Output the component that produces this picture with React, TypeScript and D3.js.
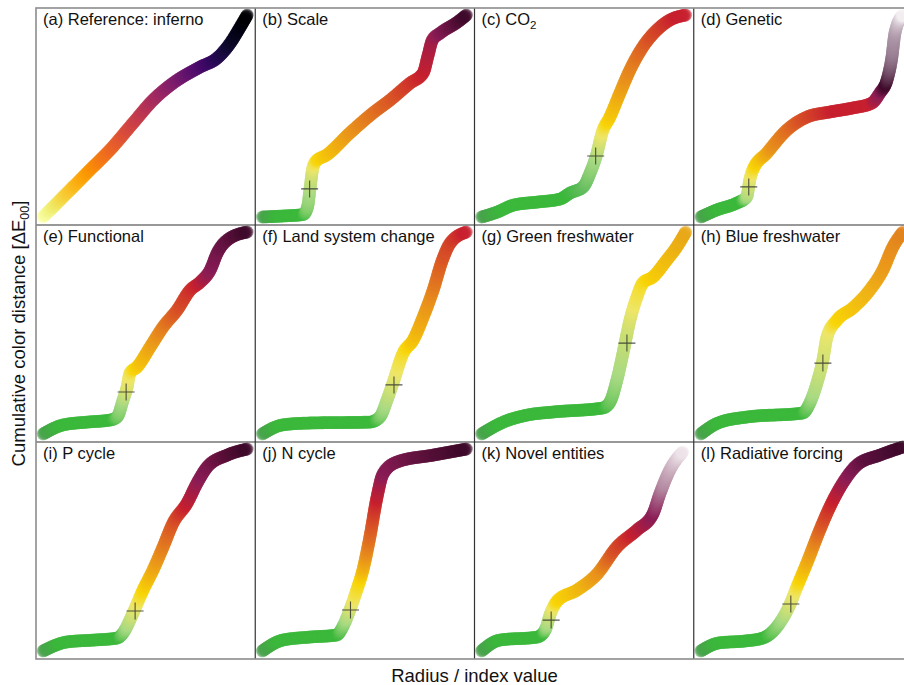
import React, { useEffect, useRef } from "react";
import * as d3 from "d3";

// panel titles, subscript part kept apart (only CO2 has one)
const titles = [
  "(a) Reference: inferno", "(b) Scale", "(c) CO", "(d) Genetic",
  "(e) Functional", "(f) Land system change", "(g) Green freshwater", "(h) Blue freshwater",
  "(i) P cycle", "(j) N cycle", "(k) Novel entities", "(l) Radiative forcing",
];
const titleSubs = ["", "", "2", "", "", "", "", "", "", "", "", ""];

// cumulative distance curves, [index value, distance] both scaled 0..1
const curveA = [[0, 0], [0.118, 0.119], [0.23, 0.233], [0.328, 0.332], [0.441, 0.465], [0.539, 0.579], [0.637, 0.663], [0.77, 0.743], [0.853, 0.787], [0.917, 0.861], [0.966, 0.941], [1, 1]];
const curveB = [[0, 0], [0.1, 0.005], [0.2, 0.012], [0.222, 0.05], [0.234, 0.14], [0.246, 0.233], [0.262, 0.275], [0.315, 0.307], [0.429, 0.416], [0.542, 0.515], [0.626, 0.579], [0.724, 0.663], [0.788, 0.713], [0.812, 0.8], [0.833, 0.876], [0.872, 0.911], [0.956, 0.965], [1, 1]];
const curveC = [[0, 0], [0.078, 0.025], [0.156, 0.059], [0.273, 0.074], [0.385, 0.089], [0.434, 0.119], [0.498, 0.149], [0.532, 0.218], [0.566, 0.317], [0.59, 0.416], [0.629, 0.495], [0.678, 0.614], [0.727, 0.728], [0.79, 0.842], [0.859, 0.926], [0.922, 0.975], [1, 1]];
const curveD = [[0, 0], [0.078, 0.035], [0.176, 0.069], [0.225, 0.099], [0.24, 0.183], [0.255, 0.233], [0.324, 0.317], [0.422, 0.431], [0.52, 0.495], [0.632, 0.52], [0.745, 0.54], [0.838, 0.564], [0.877, 0.614], [0.912, 0.678], [0.936, 0.792], [0.951, 0.911], [0.99, 1]];
const curveE = [[0, 0], [0.098, 0.045], [0.216, 0.059], [0.328, 0.069], [0.363, 0.084], [0.392, 0.168], [0.412, 0.233], [0.426, 0.302], [0.461, 0.332], [0.525, 0.431], [0.588, 0.53], [0.657, 0.614], [0.721, 0.713], [0.77, 0.752], [0.819, 0.812], [0.853, 0.896], [0.902, 0.96], [1, 1]];
const curveF = [[0, 0], [0.099, 0.045], [0.217, 0.054], [0.527, 0.059], [0.576, 0.084], [0.611, 0.168], [0.64, 0.252], [0.69, 0.401], [0.739, 0.465], [0.788, 0.579], [0.837, 0.713], [0.882, 0.861], [0.921, 0.946], [1, 1]];
const curveG = [[0, 0], [0.107, 0.059], [0.224, 0.094], [0.351, 0.109], [0.595, 0.129], [0.629, 0.158], [0.663, 0.267], [0.693, 0.401], [0.727, 0.564], [0.761, 0.678], [0.79, 0.748], [0.839, 0.777], [0.907, 0.861], [0.956, 0.926], [1, 1]];
const curveH = [[0, 0], [0.083, 0.054], [0.225, 0.084], [0.5, 0.104], [0.534, 0.153], [0.569, 0.252], [0.598, 0.366], [0.618, 0.48], [0.667, 0.564], [0.745, 0.624], [0.828, 0.713], [0.892, 0.812], [0.941, 0.926], [0.99, 1]];
const curveI = [[0, 0], [0.118, 0.045], [0.245, 0.054], [0.363, 0.064], [0.392, 0.089], [0.441, 0.188], [0.49, 0.302], [0.539, 0.401], [0.588, 0.515], [0.637, 0.634], [0.706, 0.733], [0.755, 0.832], [0.804, 0.911], [0.902, 0.97], [1, 1]];
const curveJ = [[0, 0], [0.099, 0.054], [0.232, 0.069], [0.365, 0.079], [0.394, 0.119], [0.429, 0.203], [0.463, 0.302], [0.493, 0.401], [0.527, 0.564], [0.562, 0.762], [0.591, 0.876], [0.66, 0.936], [0.837, 0.97], [1, 1]];
const curveK = [[0, 0], [0.088, 0.054], [0.273, 0.069], [0.312, 0.104], [0.337, 0.183], [0.371, 0.248], [0.468, 0.302], [0.566, 0.381], [0.663, 0.515], [0.761, 0.599], [0.839, 0.678], [0.873, 0.777], [0.922, 0.896], [0.985, 0.985]];
const curveL = [[0, 0], [0.088, 0.04], [0.221, 0.05], [0.304, 0.064], [0.387, 0.139], [0.436, 0.228], [0.471, 0.317], [0.52, 0.436], [0.583, 0.599], [0.632, 0.713], [0.696, 0.832], [0.765, 0.921], [0.877, 0.97], [0.99, 1.01]];
const curves = [curveA, curveB, curveC, curveD, curveE, curveF, curveG, curveH, curveI, curveJ, curveK, curveL];

// boundary crosses, null where there is none
const markers = [null, [0.232, 0.139], [0.559, 0.302], [0.235, 0.149], [0.407, 0.208], [0.645, 0.243], [0.712, 0.45], [0.598, 0.351], [0.451, 0.198], [0.432, 0.203], [0.341, 0.153], [0.441, 0.233]];

// colour of each index value
const dkgreen = "#4b9f4f", green = "#3cb83c", ltgreen = "#a7da84", pale = "#efe76b", yellow = "#f9d607",
  orange = "#e9921d", redorange = "#d95427", red = "#c82130", crimson = "#8b1d57", dark = "#3d0a2a", white = "#f8f5f7";
const stopsB = [[0, dkgreen], [0.08, green], [0.2, green], [0.232, ltgreen], [0.25, pale], [0.27, yellow], [0.45, orange], [0.65, redorange], [0.79, red], [0.86, crimson], [1, dark]];
const stopsC = [[0, dkgreen], [0.1, green], [0.42, green], [0.5, "#62bd5e"], [0.56, ltgreen], [0.59, pale], [0.615, yellow], [0.71, orange], [0.82, redorange], [0.95, red], [1, red]];
const stopsD = [[0, dkgreen], [0.08, green], [0.2, green], [0.225, ltgreen], [0.245, pale], [0.265, yellow], [0.35, orange], [0.485, redorange], [0.65, red], [0.83, red], [0.877, crimson], [0.905, dark], [0.94, "#9c8296"], [0.99, white]];
const stopsE = [[0, dkgreen], [0.08, green], [0.34, green], [0.39, ltgreen], [0.42, pale], [0.445, yellow], [0.56, orange], [0.66, redorange], [0.755, red], [0.82, crimson], [0.87, "#6e1648"], [1, dark]];
const stopsF = [[0, dkgreen], [0.08, green], [0.55, green], [0.6, ltgreen], [0.66, pale], [0.71, yellow], [0.82, orange], [0.89, redorange], [0.99, red]];
const stopsG = [[0, dkgreen], [0.08, green], [0.6, green], [0.67, ltgreen], [0.712, "#c9df74"], [0.745, pale], [0.81, yellow], [0.92, "#f0bb12"], [1, "#e8a818"]];
const stopsH = [[0, dkgreen], [0.08, green], [0.5, green], [0.55, ltgreen], [0.63, pale], [0.667, yellow], [0.83, "#f0b418"], [0.93, orange], [1, "#e0801e"]];
const stopsI = [[0, dkgreen], [0.08, green], [0.37, green], [0.41, ltgreen], [0.46, pale], [0.49, yellow], [0.57, orange], [0.64, redorange], [0.7, red], [0.77, crimson], [0.9, "#5a1038"], [1, dark]];
const stopsJ = [[0, dkgreen], [0.08, green], [0.37, green], [0.41, ltgreen], [0.445, pale], [0.48, yellow], [0.51, orange], [0.54, redorange], [0.56, red], [0.59, crimson], [0.76, "#641440"], [1, dark]];
const stopsK = [[0, dkgreen], [0.08, green], [0.3, green], [0.32, ltgreen], [0.35, pale], [0.37, yellow], [0.5, "#efb414"], [0.58, orange], [0.645, redorange], [0.74, red], [0.84, crimson], [0.89, "#b58aa2"], [1, white]];
const stopsL = [[0, dkgreen], [0.08, green], [0.32, green], [0.4, ltgreen], [0.46, pale], [0.485, yellow], [0.55, orange], [0.6, redorange], [0.65, red], [0.72, crimson], [0.81, "#5e1240"], [1, dark]];
const colorStops = [null, stopsB, stopsC, stopsD, stopsE, stopsF, stopsG, stopsH, stopsI, stopsJ, stopsK, stopsL];

const font = "'Liberation Sans', Arial, Helvetica, sans-serif";

export default function App() {
  const ref = useRef<SVGGElement>(null);
  const cols = d3.scaleBand<number>().domain(d3.range(4)).range([36, 913]);
  const rows = d3.scaleBand<number>().domain(d3.range(3)).range([8, 659]);
  const bw = cols.bandwidth(), bh = rows.bandwidth();

  useEffect(() => {
    const root = d3.select(ref.current);
    root.selectAll("*").remove();
    curves.forEach((curve, i) => {
      const x0 = cols(i % 4)!, y0 = rows(Math.floor(i / 4))!;
      const x = d3.scaleLinear().domain([0, 1]).range([x0 + 7, x0 + bw - 8]);
      const y = d3.scaleLinear().domain([0, 1]).range([y0 + bh - 8, y0 + 7]);
      const stops = colorStops[i];
      const color = stops
        ? d3.scaleLinear<string>().domain(stops.map(s => s[0] as number)).range(stops.map(s => s[1] as string)).clamp(true)
        : (t: number) => d3.interpolateInferno(1 - Math.max(0, Math.min(1, t)));
      const line = d3.line<number[]>().x(d => x(d[0])).y(d => y(d[1])).curve(d3.curveMonotoneX);
      const g = root.append("g");
      const path = g.append("path").attr("d", line(curve)).attr("fill", "none").attr("stroke", "none");
      const node = path.node() as SVGPathElement;
      const len = node.getTotalLength();
      const n = Math.ceil(len / 0.7);
      const pts = d3.range(n + 1).map(k => node.getPointAtLength((len * k) / n));
      g.selectAll("circle").data(pts).join("circle")
        .attr("cx", p => p.x).attr("cy", p => p.y).attr("r", 6.4)
        .attr("fill", p => color(x.invert(p.x)))
        .attr("fill-opacity", 0.4);
      const m = markers[i];
      if (m) {
        const mx = x(m[0]), my = y(m[1]);
        g.append("path")
          .attr("d", `M${mx - 8.5},${my}H${mx + 8.5}M${mx},${my - 8.5}V${my + 8.5}`)
          .attr("stroke", "#2b2b2b").attr("stroke-width", 1.1).attr("stroke-opacity", 0.8).attr("fill", "none");
      }
    });
  }, []);

  return (
    <svg width={904} height={685} style={{ position: "absolute", left: 0, top: 0, background: "#fff" }} fontFamily={font}>
      <g ref={ref} />
      {d3.range(1, 4).map(c => (
        <line key={"c" + c} x1={cols(c)} x2={cols(c)} y1={8} y2={659} stroke="#333" strokeWidth={1.2} />
      ))}
      {d3.range(1, 3).map(r => (
        <line key={"r" + r} x1={36} x2={913} y1={rows(r)} y2={rows(r)} stroke="#333" strokeWidth={1.2} />
      ))}
      <rect x={36} y={8} width={877} height={651} fill="none" stroke="#8c8c8c" strokeWidth={1.6} />
      {titles.map((t, i) => (
        <text key={t} x={cols(i % 4)! + 7} y={rows(Math.floor(i / 4))! + 17} fontSize={16.5} fill="#111">
          {t}
          {titleSubs[i] && <tspan fontSize={11.5} dy={4}>{titleSubs[i]}</tspan>}
        </text>
      ))}
      <text x={474.5} y={682} textAnchor="middle" fontSize={18.5} fill="#111">Radius / index value</text>
      <text transform="translate(25,333.5) rotate(-90)" textAnchor="middle" fontSize={18.5} fill="#111">
        Cumulative color distance [ΔE<tspan fontSize={12.5} dy={4}>00</tspan><tspan dy={-4}>]</tspan>
      </text>
    </svg>
  );
}
